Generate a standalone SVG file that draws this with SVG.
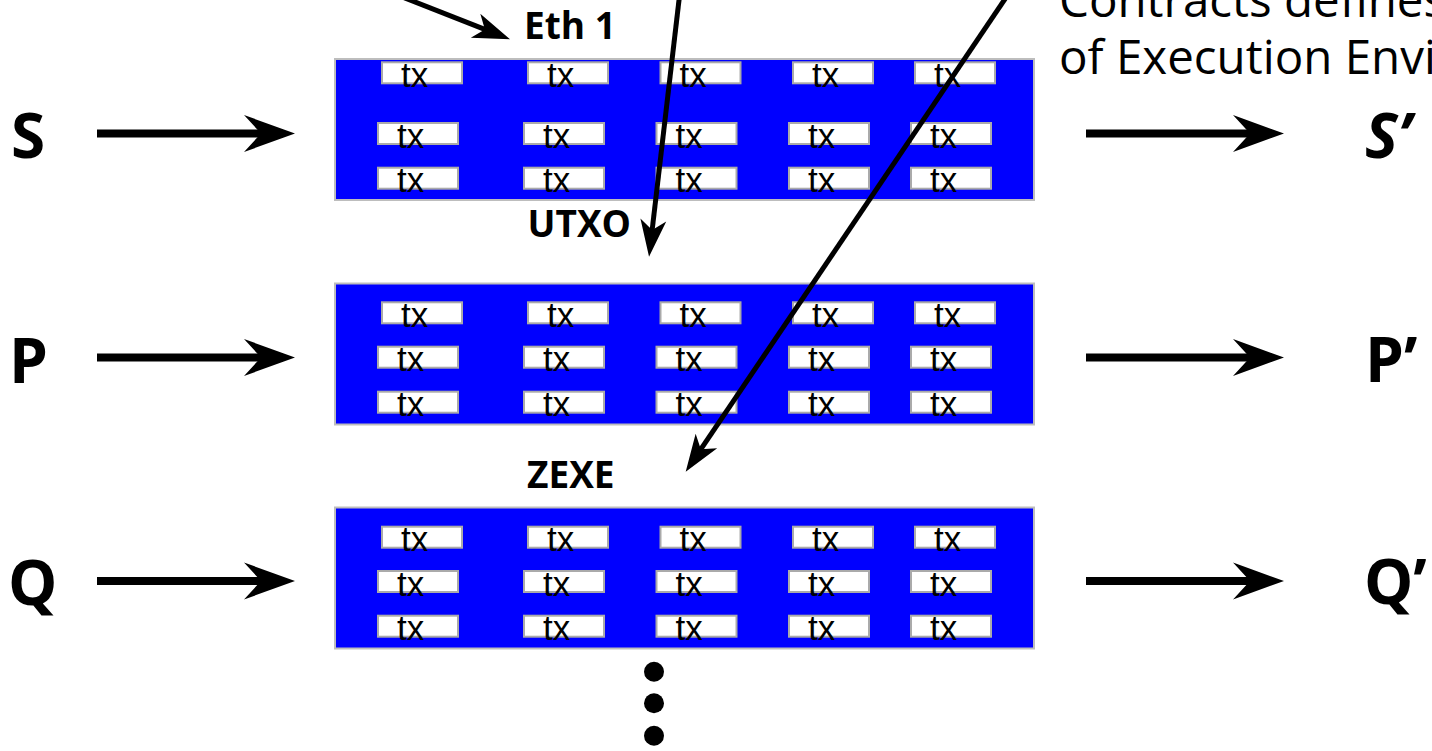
<svg xmlns="http://www.w3.org/2000/svg" width="1432" height="751" viewBox="0 0 1432 751">
<style>
.blk{fill:#0000ff;stroke:#bdbdbd;stroke-width:2}
.tx rect{fill:#ffffff;stroke:#aaaaaa;stroke-width:2}
.tx text{font-family:"Liberation Sans",Arial,sans-serif;font-size:35px;fill:#000}
.lbl{font-family:"Open Sans","Noto Sans",sans-serif;font-weight:bold;font-size:62px;fill:#000}
.cap{font-family:"Open Sans","Noto Sans",sans-serif;font-weight:bold;font-size:37px;fill:#000}
.note{font-family:"Open Sans","Noto Sans",sans-serif;font-size:47.5px;fill:#000}
.harrow{stroke:#000;stroke-width:8;fill:none;marker-end:url(#bigHead)}
.darrow{stroke:#000;stroke-width:5;fill:none;marker-end:url(#smallHead)}
</style>
<defs>
<marker id="bigHead" markerUnits="userSpaceOnUse" orient="auto" refX="0" refY="0" markerWidth="60" markerHeight="40" overflow="visible">
<path d="M12,0 L-39,-18.5 L-22,0 L-39,18.5 Z" fill="#000"/>
</marker>
<marker id="smallHead" markerUnits="userSpaceOnUse" orient="auto" refX="0" refY="0" markerWidth="40" markerHeight="30" overflow="visible">
<path d="M10,0 L-27,-13 L-17,0 L-27,13 Z" fill="#000"/>
</marker>
</defs>
<rect width="1432" height="751" fill="#ffffff"/>

<g id="labels-left">
<text id="lbl-S" class="lbl" x="11" y="158">S</text>
<text id="lbl-P" class="lbl" x="9" y="383">P</text>
<text id="lbl-Q" class="lbl" x="8" y="605">Q</text>
</g>
<g id="labels-right">
<text id="lbl-S2" class="lbl" x="1365" y="158" font-style="italic">S’</text>
<text id="lbl-P2" class="lbl" x="1365" y="382">P’</text>
<text id="lbl-Q2" class="lbl" x="1364" y="604">Q’</text>
</g>

<g id="note">
<text class="note" x="1059" y="17">Contracts defines</text>
<text class="note" x="1059" y="74">of Execution Envi</text>
</g>

<text id="cap-eth1" class="cap" x="524" y="39">Eth 1</text>
<text id="cap-utxo" class="cap" x="527.5" y="237">UTXO</text>
<text id="cap-zexe" class="cap" x="527" y="488">ZEXE</text>

<g id="block1">
<rect class="blk" x="335" y="59" width="699" height="141"/>
<g class="tx" transform="translate(382,62.3)"><rect width="80" height="21"/><text x="19" y="24.5">tx</text></g>
<g class="tx" transform="translate(528,62.3)"><rect width="80" height="21"/><text x="19" y="24.5">tx</text></g>
<g class="tx" transform="translate(660.5,62.3)"><rect width="80" height="21"/><text x="19" y="24.5">tx</text></g>
<g class="tx" transform="translate(793,62.3)"><rect width="80" height="21"/><text x="19" y="24.5">tx</text></g>
<g class="tx" transform="translate(915,62.3)"><rect width="80" height="21"/><text x="19" y="24.5">tx</text></g>
<g class="tx" transform="translate(378,123)"><rect width="80" height="21"/><text x="19" y="24.5">tx</text></g>
<g class="tx" transform="translate(524,123)"><rect width="80" height="21"/><text x="19" y="24.5">tx</text></g>
<g class="tx" transform="translate(656.5,123)"><rect width="80" height="21"/><text x="19" y="24.5">tx</text></g>
<g class="tx" transform="translate(789,123)"><rect width="80" height="21"/><text x="19" y="24.5">tx</text></g>
<g class="tx" transform="translate(911,123)"><rect width="80" height="21"/><text x="19" y="24.5">tx</text></g>
<g class="tx" transform="translate(378,167.7)"><rect width="80" height="21"/><text x="19" y="24.5">tx</text></g>
<g class="tx" transform="translate(524,167.7)"><rect width="80" height="21"/><text x="19" y="24.5">tx</text></g>
<g class="tx" transform="translate(656.5,167.7)"><rect width="80" height="21"/><text x="19" y="24.5">tx</text></g>
<g class="tx" transform="translate(789,167.7)"><rect width="80" height="21"/><text x="19" y="24.5">tx</text></g>
<g class="tx" transform="translate(911,167.7)"><rect width="80" height="21"/><text x="19" y="24.5">tx</text></g>
</g>

<g id="block2">
<rect class="blk" x="335" y="283.5" width="699" height="141"/>
<g class="tx" transform="translate(382,302.3)"><rect width="80" height="21"/><text x="19" y="24.5">tx</text></g>
<g class="tx" transform="translate(528,302.3)"><rect width="80" height="21"/><text x="19" y="24.5">tx</text></g>
<g class="tx" transform="translate(660.5,302.3)"><rect width="80" height="21"/><text x="19" y="24.5">tx</text></g>
<g class="tx" transform="translate(793,302.3)"><rect width="80" height="21"/><text x="19" y="24.5">tx</text></g>
<g class="tx" transform="translate(915,302.3)"><rect width="80" height="21"/><text x="19" y="24.5">tx</text></g>
<g class="tx" transform="translate(378,346.7)"><rect width="80" height="21"/><text x="19" y="24.5">tx</text></g>
<g class="tx" transform="translate(524,346.7)"><rect width="80" height="21"/><text x="19" y="24.5">tx</text></g>
<g class="tx" transform="translate(656.5,346.7)"><rect width="80" height="21"/><text x="19" y="24.5">tx</text></g>
<g class="tx" transform="translate(789,346.7)"><rect width="80" height="21"/><text x="19" y="24.5">tx</text></g>
<g class="tx" transform="translate(911,346.7)"><rect width="80" height="21"/><text x="19" y="24.5">tx</text></g>
<g class="tx" transform="translate(378,391.7)"><rect width="80" height="21"/><text x="19" y="24.5">tx</text></g>
<g class="tx" transform="translate(524,391.7)"><rect width="80" height="21"/><text x="19" y="24.5">tx</text></g>
<g class="tx" transform="translate(656.5,391.7)"><rect width="80" height="21"/><text x="19" y="24.5">tx</text></g>
<g class="tx" transform="translate(789,391.7)"><rect width="80" height="21"/><text x="19" y="24.5">tx</text></g>
<g class="tx" transform="translate(911,391.7)"><rect width="80" height="21"/><text x="19" y="24.5">tx</text></g>
</g>

<g id="block3">
<rect class="blk" x="335" y="507.5" width="699" height="141"/>
<g class="tx" transform="translate(382,526.7)"><rect width="80" height="21"/><text x="19" y="24.5">tx</text></g>
<g class="tx" transform="translate(528,526.7)"><rect width="80" height="21"/><text x="19" y="24.5">tx</text></g>
<g class="tx" transform="translate(660.5,526.7)"><rect width="80" height="21"/><text x="19" y="24.5">tx</text></g>
<g class="tx" transform="translate(793,526.7)"><rect width="80" height="21"/><text x="19" y="24.5">tx</text></g>
<g class="tx" transform="translate(915,526.7)"><rect width="80" height="21"/><text x="19" y="24.5">tx</text></g>
<g class="tx" transform="translate(378,571)"><rect width="80" height="21"/><text x="19" y="24.5">tx</text></g>
<g class="tx" transform="translate(524,571)"><rect width="80" height="21"/><text x="19" y="24.5">tx</text></g>
<g class="tx" transform="translate(656.5,571)"><rect width="80" height="21"/><text x="19" y="24.5">tx</text></g>
<g class="tx" transform="translate(789,571)"><rect width="80" height="21"/><text x="19" y="24.5">tx</text></g>
<g class="tx" transform="translate(911,571)"><rect width="80" height="21"/><text x="19" y="24.5">tx</text></g>
<g class="tx" transform="translate(378,615.7)"><rect width="80" height="21"/><text x="19" y="24.5">tx</text></g>
<g class="tx" transform="translate(524,615.7)"><rect width="80" height="21"/><text x="19" y="24.5">tx</text></g>
<g class="tx" transform="translate(656.5,615.7)"><rect width="80" height="21"/><text x="19" y="24.5">tx</text></g>
<g class="tx" transform="translate(789,615.7)"><rect width="80" height="21"/><text x="19" y="24.5">tx</text></g>
<g class="tx" transform="translate(911,615.7)"><rect width="80" height="21"/><text x="19" y="24.5">tx</text></g>
</g>

<g id="ellipsis" fill="#000">
<circle cx="654" cy="671.7" r="10"/>
<circle cx="654" cy="703.3" r="10"/>
<circle cx="654" cy="735.7" r="10"/>
</g>

<g id="connectors">
<line class="harrow" x1="97" y1="133.5" x2="283" y2="133.5"/>
<line class="harrow" x1="97" y1="357.5" x2="283" y2="357.5"/>
<line class="harrow" x1="97" y1="581" x2="283" y2="581"/>
<line class="harrow" x1="1086" y1="133.5" x2="1272" y2="133.5"/>
<line class="harrow" x1="1086" y1="357.5" x2="1272" y2="357.5"/>
<line class="harrow" x1="1086" y1="581" x2="1272" y2="581"/>
<line class="darrow" x1="398.3" y1="-4.6" x2="500.7" y2="35.6"/>
<line class="darrow" x1="679.6" y1="-5" x2="650.2" y2="246.8"/>
<line class="darrow" x1="1007.7" y1="-5" x2="691.3" y2="463.4"/>
</g>
</svg>
